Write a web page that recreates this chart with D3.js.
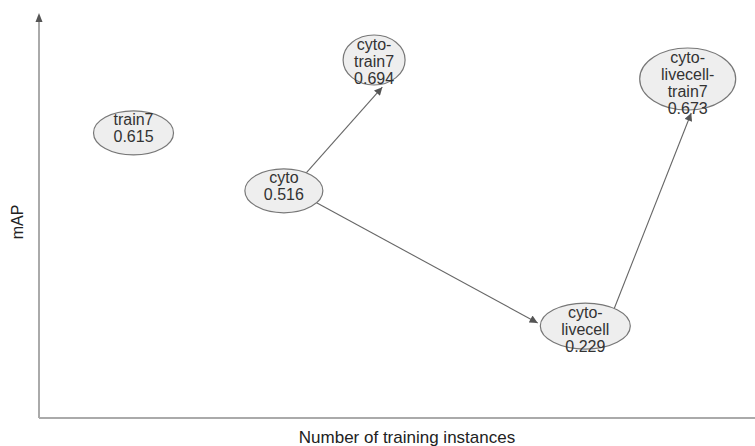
<!DOCTYPE html>
<html>
<head>
<meta charset="utf-8">
<script src="https://cdn.jsdelivr.net/npm/d3@7"></script>
<style>
  html, body { margin: 0; padding: 0; background: #fff; }
  svg { display: block; }
</style>
</head>
<body>
<svg id="chart" width="755" height="446"></svg>
<script>
// ---- data ----
const nodeLabels = ["train7", "cyto", "cyto-train7", "cyto-livecell", "cyto-livecell-train7"];
const nodeLines  = [["train7"], ["cyto"], ["cyto-", "train7"], ["cyto-", "livecell"], ["cyto-", "livecell-", "train7"]];
const mapValues  = [0.615, 0.516, 0.694, 0.229, 0.673];
// relative position along "Number of training instances" (no ticks, schematic)
const trainingInstances = [0.132, 0.342, 0.468, 0.763, 0.906];
// relative vertical level on the mAP axis (schematic)
const mapLevel = [0.704, 0.561, 0.884, 0.227, 0.837];
// edges: [source index, target index]
const edges = [[1, 2], [1, 3], [3, 4]];

// ---- layout / style (not data) ----
const W = 755, H = 446;
const plot = { left: 39, right: 755, top: 13, bottom: 418 };
const shape = [ {rx: 40, ry: 22}, {rx: 39, ry: 22}, {rx: 31, ry: 25}, {rx: 45, ry: 23}, {rx: 48, ry: 31} ];
// attachment angles (deg) on source/target ellipse per edge
const edgeAngles = [[-55, 76], [33, 187], [-50, 86]];
const targetGap = 3;
const fontFamily = "'Liberation Sans', Arial, sans-serif";

const svg = d3.select("#chart");
const x = d3.scaleLinear().domain([0, 1]).range([plot.left, plot.right]);
const y = d3.scaleLinear().domain([0, 1]).range([plot.bottom, plot.top]);

const defs = svg.append("defs");
defs.append("marker")
  .attr("id", "arrow")
  .attr("viewBox", "0 0 10 10")
  .attr("refX", 10).attr("refY", 5)
  .attr("markerWidth", 9).attr("markerHeight", 8)
  .attr("markerUnits", "userSpaceOnUse")
  .attr("orient", "auto")
  .append("path").attr("d", "M0,0 L10,5 L0,10 Z").attr("fill", "#555");

// axes
svg.append("line")
  .attr("x1", x(0)).attr("x2", x(1))
  .attr("y1", y(0)).attr("y2", y(0))
  .attr("stroke", "#aaa").attr("stroke-width", 2);
svg.append("line")
  .attr("x1", x(0)).attr("x2", x(0))
  .attr("y1", y(0)).attr("y2", y(1) + 8)
  .attr("stroke", "#aaa").attr("stroke-width", 2);
svg.append("path")
  .attr("d", `M${x(0)},${y(1)} L${x(0) + 3.5},${y(1) + 9} L${x(0) - 3.5},${y(1) + 9} Z`)
  .attr("fill", "#555");

// axis titles
svg.append("text")
  .attr("x", 407).attr("y", 443)
  .attr("text-anchor", "middle")
  .attr("font-family", fontFamily).attr("font-size", 17)
  .attr("fill", "#222")
  .text("Number of training instances");
svg.append("text")
  .attr("transform", "translate(23,222) rotate(-90)")
  .attr("text-anchor", "middle")
  .attr("font-family", fontFamily).attr("font-size", 16)
  .attr("fill", "#222")
  .text("mAP");

const nodes = nodeLabels.map((name, i) => ({
  name, lines: nodeLines[i].concat([mapValues[i].toFixed(3)]),
  cx: x(trainingInstances[i]), cy: y(mapLevel[i]),
  rx: shape[i].rx, ry: shape[i].ry
}));

function pt(n, deg, gap) {
  const t = deg * Math.PI / 180;
  return [n.cx + (n.rx + gap) * Math.cos(t), n.cy + (n.ry + gap) * Math.sin(t)];
}

// edges
edges.forEach(([s, t], k) => {
  const p1 = pt(nodes[s], edgeAngles[k][0], 0);
  const p2 = pt(nodes[t], edgeAngles[k][1], targetGap);
  svg.append("line")
    .attr("x1", p1[0]).attr("y1", p1[1])
    .attr("x2", p2[0]).attr("y2", p2[1])
    .attr("stroke", "#666").attr("stroke-width", 1.1)
    .attr("marker-end", "url(#arrow)");
});

// nodes
const g = svg.selectAll("g.node").data(nodes).join("g").attr("class", "node");
g.append("ellipse")
  .attr("cx", d => d.cx).attr("cy", d => d.cy)
  .attr("rx", d => d.rx).attr("ry", d => d.ry)
  .attr("fill", "#eeeeee").attr("stroke", "#777").attr("stroke-width", 1.2);
g.each(function(d) {
  const top = d.cy - d.ry;
  d3.select(this).selectAll("text").data(d.lines).join("text")
    .attr("x", d.cx)
    .attr("y", (l, j) => top + 9 + j * 17)
    .attr("dy", "0.35em")
    .attr("text-anchor", "middle")
    .attr("font-family", fontFamily).attr("font-size", 16)
    .attr("fill", "#333")
    .text(l => l);
});
</script>
</body>
</html>
